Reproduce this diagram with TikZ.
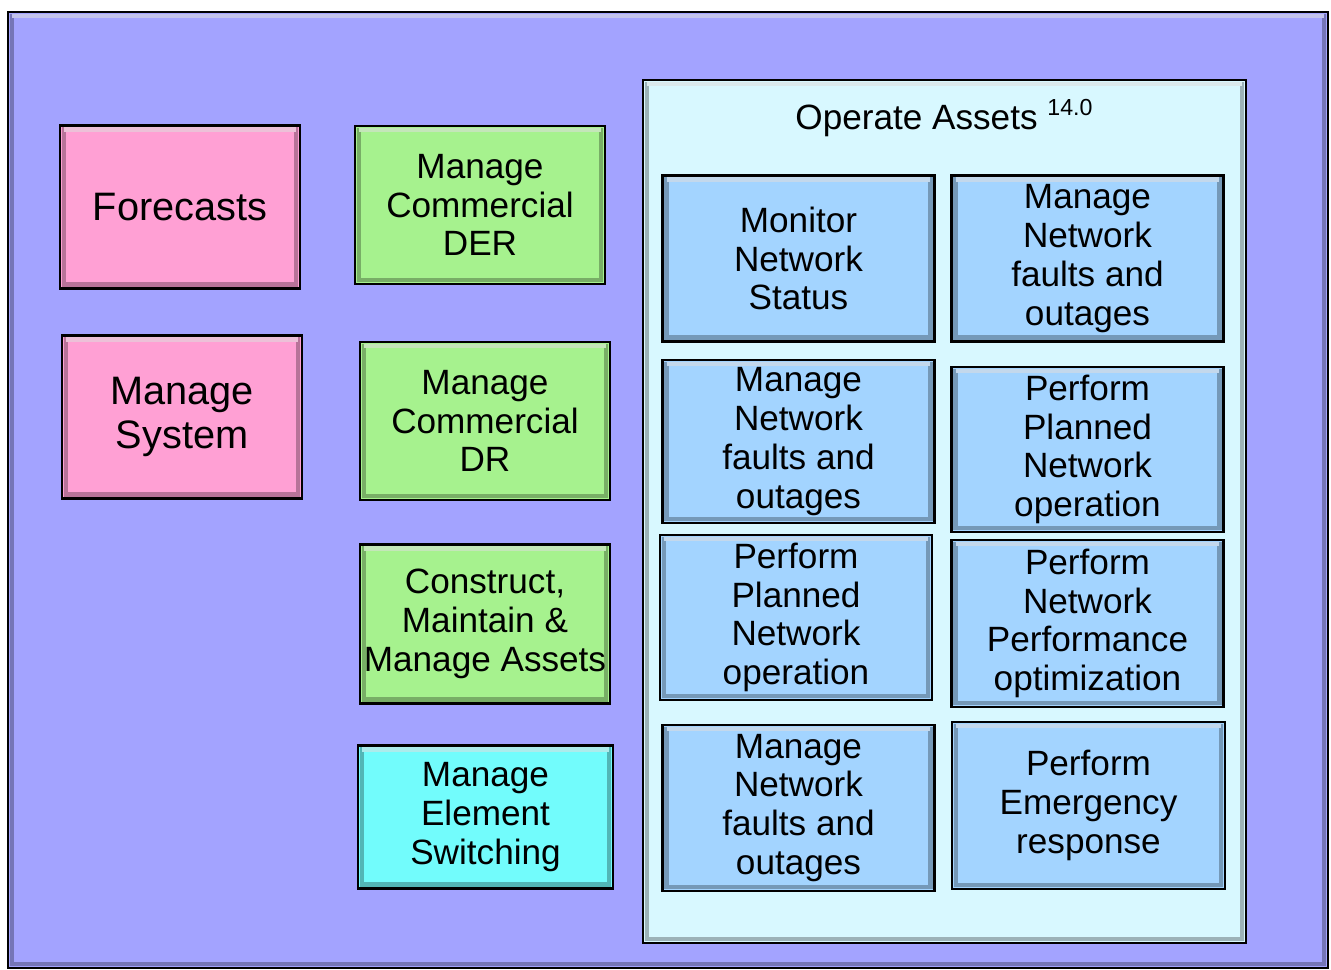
\documentclass[tikz,border=0pt]{standalone}
\usepackage{fontspec}
\setmainfont{Liberation Sans}
\definecolor{bgpurple}{HTML}{A3A3FF}
\definecolor{boxpink}{HTML}{FFA0D4}
\definecolor{boxgreen}{HTML}{A6F28E}
\definecolor{boxcyan}{HTML}{72FCFC}
\definecolor{boxpale}{HTML}{D8F8FF}
\definecolor{boxblue}{HTML}{A3D4FF}
\begin{document}
\begin{tikzpicture}[x=0.1mm, y=-0.1mm,
    process/.style ={draw=black, line width=0.8pt, fill=#1, inner sep=0pt,
      align=center, font=\fontsize{10pt}{11.06pt}\selectfont,
      path picture={\draw[#1!72!black, line width=1.3pt]
        ([shift={(0.4mm,-0.4mm)}]path picture bounding box.north west) rectangle
        ([shift={(-0.4mm,0.4mm)}]path picture bounding box.south east);
        \draw[#1!75!gray!60!white, line width=1.3pt]
        ([shift={(0.4mm,-0.4mm)}]path picture bounding box.north west) --
        ([shift={(-0.4mm,-0.4mm)}]path picture bounding box.north east);}},
    leftbox/.style ={process=boxpink, minimum width=24mm, minimum height=16.3mm,
      font=\fontsize{11.3pt}{12.6pt}\selectfont},
    midbox/.style ={process=boxgreen, minimum width=25mm, minimum height=15.8mm},
    taskbox/.style ={process=boxblue, minimum width=27.2mm, minimum height=16.6mm}]
   \useasboundingbox[fill=white] (0,0) rectangle (1331,970);
   \node[process=bgpurple, minimum width=132mm, minimum height=95.6mm] (frame) at (668,490) {};

   % left column
   \node[leftbox] (forecasts) at (180,207) {Forecasts};
   \node[leftbox] (system)    at (182,417) {Manage\\System};

   % middle column
   \node[midbox] (der)    at (480,205) {Manage\\Commercial\\DER};
   \node[midbox] (dr)     at (485,421) {Manage\\Commercial\\DR};
   \node[midbox, minimum height=15.9mm] (assets) at (485,624) {Construct,\\Maintain \&\\Manage Assets};
   \node[midbox, process=boxcyan, minimum width=25.5mm, minimum height=14.3mm] (switching) at (485.5,817) {Manage\\Element\\Switching};

   % operate assets
   \node[process=boxpale, minimum width=60.3mm, minimum height=86.3mm] (operate) at (944.5,511.5) {};
   \node[font=\fontsize{10pt}{11pt}\selectfont] (title) at (944,118)
     {Operate Assets \raisebox{0.75ex}{\fontsize{6.6pt}{7pt}\selectfont 14.0}};

   \node[taskbox] (monitor)  at (798.5,258.5) {Monitor\\Network\\Status};
   \node[taskbox] (faultsA)  at (1087.5,258.5) {Manage\\Network\\faults and\\outages};
   \node[taskbox, minimum height=16.3mm] (faultsB) at (798.5,441.5) {Manage\\Network\\faults and\\outages};
   \node[taskbox, minimum height=16.5mm] (plannedA) at (1087.5,449.5) {Perform\\Planned\\Network\\operation};
   \node[taskbox, minimum height=16.5mm] (plannedB) at (796,617.5) {Perform\\Planned\\Network\\operation};
   \node[taskbox, minimum height=16.7mm] (optimize) at (1087.5,623.5) {Perform\\Network\\Performance\\optimization};
   \node[taskbox] (faultsC)  at (798.5,808) {Manage\\Network\\faults and\\outages};
   \node[taskbox, minimum width=27.3mm, minimum height=16.7mm] (emergency) at (1088.5,805.5) {Perform\\Emergency\\response};
 \end{tikzpicture}
\end{document}
